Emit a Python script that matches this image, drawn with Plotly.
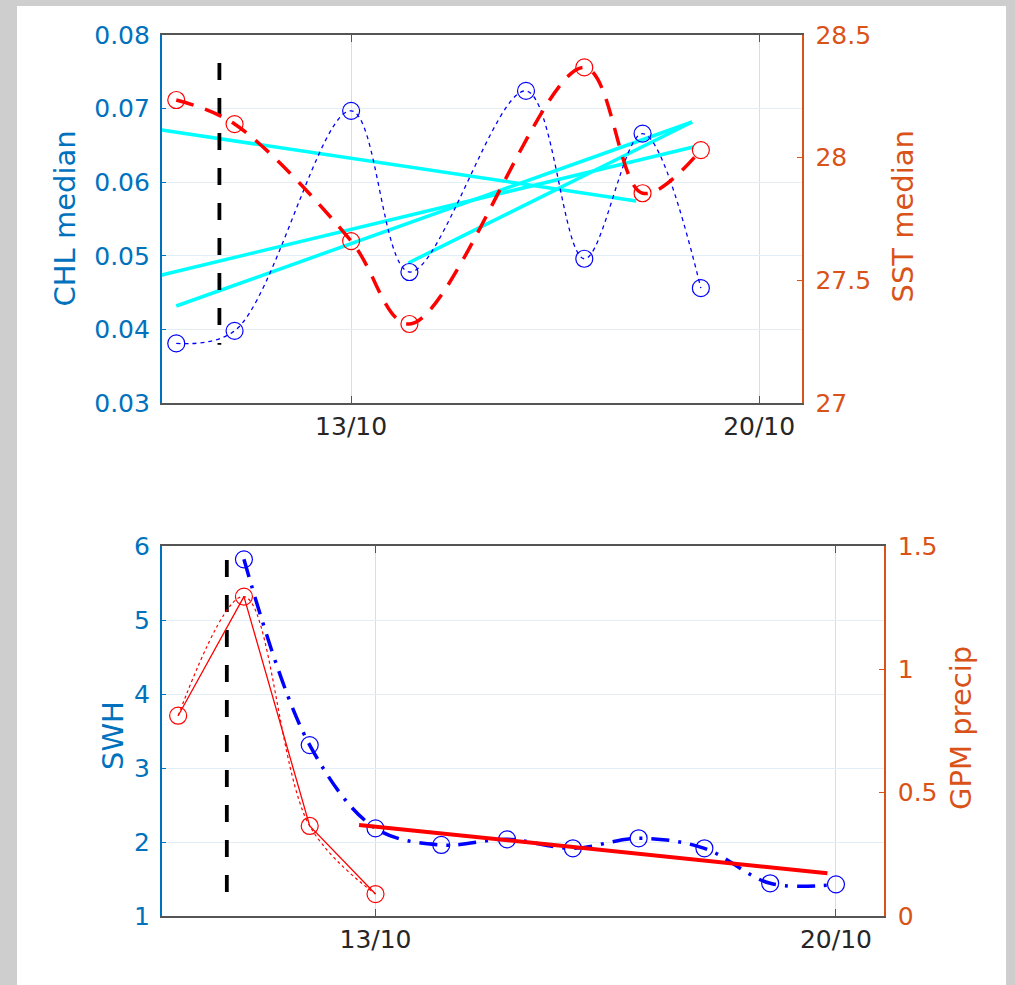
import plotly.graph_objects as go

# ---------------- data ----------------
# top panel (days of October)
chl_days = [10, 11, 13, 14, 16, 17, 18, 19]
chl_vals = [0.0381, 0.0398, 0.0697, 0.0478, 0.0724, 0.0496, 0.0666, 0.0456]
sst_days = [10, 11, 13, 14, 17, 18, 19]
sst_vals = [28.235, 28.137, 27.660, 27.322, 28.368, 27.855, 28.031]

# cyan trend lines: (start day, end day, start CHL, end CHL)
trend_lines = [
    (9.75, 17.89, 0.06709, 0.05745),
    (9.75, 18.87, 0.04739, 0.06478),
    (10.0, 18.85, 0.04318, 0.06818),
    (13.98, 18.85, 0.04902, 0.06818),
]
event_day = 10.74
event_chl = [0.0762, 0.0379]

# bottom panel
swh_days = [11, 12, 13, 14, 15, 16, 17, 18, 19, 20]
swh_vals = [5.82, 3.31, 2.185, 1.96, 2.036, 1.915, 2.05, 1.915, 1.442, 1.428]
gpm_days = [10, 11, 12, 13]
gpm_vals = [0.812, 1.295, 0.365, 0.089]
swh_trend_days = [12.75, 19.87]
swh_trend_vals = [2.23, 1.577]
event_swh = [5.81, 1.31]

xtick_vals = [13, 20]
xtick_text = ["13/10", "20/10"]
chl_ticks = [0.03, 0.04, 0.05, 0.06, 0.07, 0.08]
sst_ticks = [27, 27.5, 28, 28.5]
swh_ticks = [1, 2, 3, 4, 5, 6]
gpm_ticks = [0, 0.5, 1, 1.5]

# ---------------- style ----------------
W, H = 1015, 985
FONT = "DejaVu Sans"
BLUE_AX = "#0072BD"
ORANGE_AX = "#D95319"
DARK = "#262626"
BOX = "#555555"

def px(x):
    return x / W

def py(y):
    return (H - y) / H

fig = go.Figure()

# top panel traces
for (d0, d1, v0, v1) in trend_lines:
    fig.add_trace(go.Scatter(x=[d0, d1], y=[v0, v1], mode="lines",
                             line=dict(color="#00FFFF", width=3.5),
                             xaxis="x", yaxis="y", hoverinfo="skip"))
fig.add_trace(go.Scatter(x=chl_days, y=chl_vals, mode="lines+markers",
                         line=dict(color="#0000FF", width=1.3, dash="4px,4px", shape="spline"),
                         marker=dict(symbol="circle-open", size=17, color="#0000FF",
                                     line=dict(width=1.2, color="#0000FF")),
                         xaxis="x", yaxis="y"))
fig.add_trace(go.Scatter(x=[event_day, event_day], y=event_chl, mode="lines",
                         line=dict(color="#000000", width=3.8, dash="17px,18px"),
                         xaxis="x", yaxis="y"))
fig.add_trace(go.Scatter(x=sst_days, y=sst_vals, mode="lines+markers",
                         line=dict(color="#FF0000", width=3.5, dash="18px,12px", shape="spline"),
                         marker=dict(symbol="circle-open", size=17, color="#FF0000",
                                     line=dict(width=1.2, color="#FF0000")),
                         xaxis="x", yaxis="y2"))

# bottom panel traces
fig.add_trace(go.Scatter(x=swh_days, y=swh_vals, mode="lines+markers",
                         line=dict(color="#0000FF", width=3.5, dash="18px,9px,3px,9px", shape="spline"),
                         marker=dict(symbol="circle-open", size=17, color="#0000FF",
                                     line=dict(width=1.2, color="#0000FF")),
                         xaxis="x2", yaxis="y3"))
fig.add_trace(go.Scatter(x=[event_day, event_day], y=event_swh, mode="lines",
                         line=dict(color="#000000", width=3.8, dash="17px,18px"),
                         xaxis="x2", yaxis="y3"))
fig.add_trace(go.Scatter(x=swh_trend_days, y=swh_trend_vals, mode="lines",
                         line=dict(color="#FF0000", width=4),
                         xaxis="x2", yaxis="y3"))
fig.add_trace(go.Scatter(x=gpm_days, y=gpm_vals, mode="lines",
                         line=dict(color="#FF0000", width=1.2, dash="3px,3px", shape="spline"),
                         xaxis="x2", yaxis="y4"))
fig.add_trace(go.Scatter(x=gpm_days, y=gpm_vals, mode="lines+markers",
                         line=dict(color="#FF0000", width=1.3),
                         marker=dict(symbol="circle-open", size=17, color="#FF0000",
                                     line=dict(width=1.2, color="#FF0000")),
                         xaxis="x2", yaxis="y4"))

TICKF = 25

def xaxis(domain, anchor):
    return dict(domain=domain, anchor=anchor, range=[9.75, 20.73], automargin=False,
                tickvals=xtick_vals, ticktext=xtick_text,
                ticks="inside", ticklen=7, tickwidth=1.2, tickcolor=BOX,
                showline=True, linecolor=BOX, linewidth=1.5, mirror="ticks",
                showgrid=True, gridcolor="#dcdcdc", gridwidth=1, zeroline=False,
                tickfont=dict(family=FONT, size=TICKF, color=DARK),
                ticklabelstandoff=0)

def yleft(domain, anchor, rng, ticks, fmt):
    return dict(domain=domain, anchor=anchor, range=rng, tickvals=ticks, automargin=False,
                ticktext=[fmt(t) for t in ticks],
                ticks="inside", ticklen=5, tickwidth=1.2, tickcolor=BLUE_AX,
                showline=True, linecolor=BLUE_AX, linewidth=1.5,
                showgrid=True, gridcolor="#e3edf6", gridwidth=1, zeroline=False,
                tickfont=dict(family=FONT, size=TICKF, color=BLUE_AX),
                ticklabelstandoff=5)

def yright(overlay, anchor, rng, ticks, fmt):
    return dict(overlaying=overlay, anchor=anchor, side="right", range=rng, automargin=False,
                tickvals=ticks, ticktext=[fmt(t) for t in ticks],
                ticks="inside", ticklen=5, tickwidth=1.2, tickcolor=ORANGE_AX,
                showline=True, linecolor=ORANGE_AX, linewidth=1.5,
                showgrid=False, zeroline=False,
                tickfont=dict(family=FONT, size=TICKF, color=ORANGE_AX),
                ticklabelstandoff=7)

def gfmt(t):
    return ("%g" % t)

top_x = [px(161.7), px(801.7)]
top_y = [py(403), py(35)]
bot_x = [px(161.7), px(884)]
bot_y = [py(916), py(546)]

fig.update_layout(
    width=W, height=H,
    margin=dict(l=0, r=0, t=0, b=0, pad=0, autoexpand=False),
    paper_bgcolor="#cecece",
    plot_bgcolor="#ffffff",
    showlegend=False,
    xaxis=xaxis(top_x, "y"),
    yaxis=yleft(top_y, "x", [0.03, 0.08], chl_ticks, lambda t: "%.2f" % t),
    yaxis2=yright("y", "x", [27, 28.5], sst_ticks, gfmt),
    xaxis2=xaxis(bot_x, "y3"),
    yaxis3=yleft(bot_y, "x2", [1, 6], swh_ticks, gfmt),
    yaxis4=yright("y3", "x2", [0, 1.5], gpm_ticks, gfmt),
    shapes=[dict(type="rect", xref="paper", yref="paper",
                 x0=px(17), x1=px(1006), y0=0, y1=py(6),
                 fillcolor="#ffffff", line=dict(width=0), layer="below")],
    annotations=[
        dict(text="CHL median", x=px(64.5), y=py(219), xref="paper", yref="paper",
             showarrow=False, textangle=-90, xanchor="center", yanchor="middle",
             font=dict(family=FONT, size=29, color=BLUE_AX)),
        dict(text="SST median", x=px(902.5), y=py(217), xref="paper", yref="paper",
             showarrow=False, textangle=-90, xanchor="center", yanchor="middle",
             font=dict(family=FONT, size=29, color=ORANGE_AX)),
        dict(text="SWH", x=px(113), y=py(736), xref="paper", yref="paper",
             showarrow=False, textangle=-90, xanchor="center", yanchor="middle",
             font=dict(family=FONT, size=29, color=BLUE_AX)),
        dict(text="GPM precip", x=px(961), y=py(728), xref="paper", yref="paper",
             showarrow=False, textangle=-90, xanchor="center", yanchor="middle",
             font=dict(family=FONT, size=29, color=ORANGE_AX)),
    ],
)

fig.write_html("out.html")
